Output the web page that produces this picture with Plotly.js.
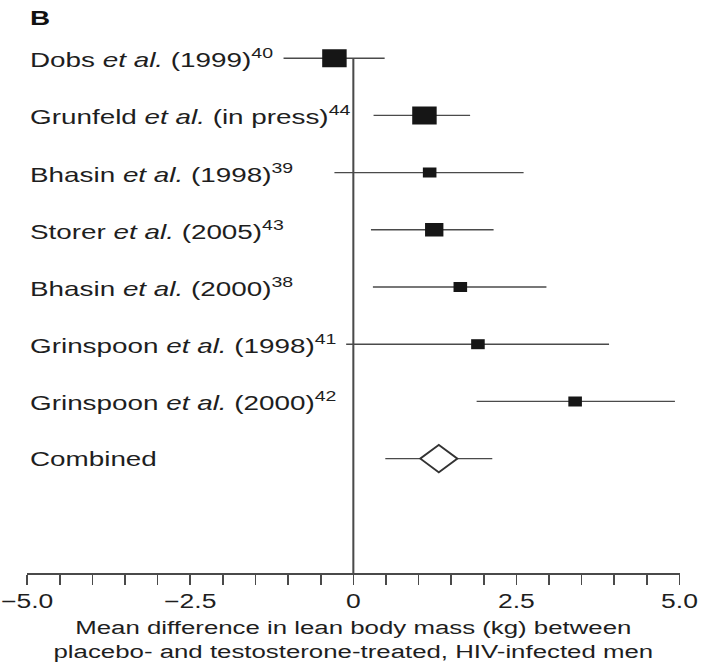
<!DOCTYPE html>
<html>
<head>
<meta charset="utf-8">
<script src="https://cdn.plot.ly/plotly-3.0.1.min.js"></script>
<style>
  html, body { margin: 0; padding: 0; overflow: hidden; background: #fff; }
  #wrap { width: 708px; height: 671px; overflow: hidden; }
  /* the figure is laid out narrow and widened horizontally */
  #chart { width: 521px; height: 671px; transform: scale(1.359, 1); transform-origin: 0 0; }
</style>
</head>
<body>
<div id="wrap"><div id="chart"></div></div>
<script>
// Studies, top to bottom, with mean difference and 95% CI (kg)
const studies = [
  'Dobs <i>et al.</i> (1999)<sup>40</sup>',
  'Grunfeld <i>et al.</i> (in press)<sup>44</sup>',
  'Bhasin <i>et al.</i> (1998)<sup>39</sup>',
  'Storer <i>et al.</i> (2005)<sup>43</sup>',
  'Bhasin <i>et al.</i> (2000)<sup>38</sup>',
  'Grinspoon <i>et al.</i> (1998)<sup>41</sup>',
  'Grinspoon <i>et al.</i> (2000)<sup>42</sup>'
];
const meanDiff = [-0.29, 1.09, 1.17, 1.24, 1.64, 1.91, 3.40];
const ciLower  = [-1.07, 0.31, -0.29, 0.27, 0.30, -0.11, 1.89];
const ciUpper  = [0.48, 1.79, 2.61, 2.15, 2.96, 3.92, 4.93];

const combinedLabel = 'Combined';
const combinedMean = 1.31;
const combinedLower = 0.49;
const combinedUpper = 2.13;

const majorTickValues = [-5, -2.5, 0, 2.5, 5];
const majorTickText = ['\u22125.0', '\u22122.5', '0', '2.5', '5.0'];

// box size per study (reflects study weight)
const boxSizes = [18, 18, 10, 13.5, 10, 10, 10];

const FONT = 'Liberation Sans, Arial, Helvetica, sans-serif';
const TEXT = '#1e1e1e';
const LINE = '#4a4a4a';

const rows = studies.map((_, i) => i);
const combinedRow = studies.length;

const studyTrace = {
  type: 'scatter', mode: 'markers',
  x: meanDiff, y: rows,
  marker: { symbol: 'square', size: boxSizes, opacity: 1, color: '#161616', line: { width: 0 } },
  error_x: {
    type: 'data', symmetric: false,
    array: meanDiff.map((m, i) => ciUpper[i] - m),
    arrayminus: meanDiff.map((m, i) => m - ciLower[i]),
    color: LINE, thickness: 1.4, width: 0
  },
  hoverinfo: 'skip', showlegend: false
};

const combinedTrace = {
  type: 'scatter', mode: 'markers',
  x: [combinedMean], y: [combinedRow],
  marker: { symbol: 'diamond', size: 21, opacity: 1, color: '#ffffff', line: { color: '#333333', width: 1.6 } },
  error_x: {
    type: 'data', symmetric: false,
    array: [combinedUpper - combinedMean],
    arrayminus: [combinedMean - combinedLower],
    color: LINE, thickness: 1.4, width: 0
  },
  hoverinfo: 'skip', showlegend: false
};

const labelAnnotations = studies.concat([combinedLabel]).map((txt, i) => ({
  xref: 'paper', yref: 'y', x: 0, y: i,
  xanchor: 'left', yanchor: 'middle',
  text: txt, showarrow: false,
  font: { family: FONT, size: 20.5, color: TEXT }
}));

labelAnnotations.push({
  xref: 'paper', yref: 'paper', x: 0, y: 0.971,
  xanchor: 'left', yanchor: 'middle',
  text: '<b>B</b>', showarrow: false,
  font: { family: FONT, size: 20.5, color: '#111' }
});

const layout = {
  width: 521, height: 671,
  margin: { l: 20.4, r: 20.6, t: 1, b: 98.3 },
  paper_bgcolor: '#ffffff', plot_bgcolor: '#ffffff',
  xaxis: {
    range: [-5, 5],
    tickmode: 'array',
    tickvals: majorTickValues,
    ticktext: majorTickText,
    ticks: 'outside', ticklen: 10, tickwidth: 1.2, tickcolor: LINE,
    minor: { dtick: 0.5, tick0: 0, ticks: 'outside', ticklen: 10, tickwidth: 1.2, tickcolor: LINE, showgrid: false },
    showline: true, linecolor: LINE, linewidth: 1.8,
    showgrid: false, zeroline: false,
    tickfont: { family: FONT, size: 19.5, color: TEXT },
    title: {
      text: 'Mean difference in lean body mass (kg) between<br>placebo- and testosterone-treated, HIV-infected men',
      font: { family: FONT, size: 19, color: TEXT },
      standoff: 9
    },
    automargin: false, fixedrange: true
  },
  yaxis: {
    range: [9, -1],
    showticklabels: false, ticks: '', showgrid: false, zeroline: false, showline: false,
    fixedrange: true
  },
  shapes: [{
    type: 'line', xref: 'x', yref: 'y',
    x0: 0, x1: 0, y0: 0, y1: 9,
    line: { color: LINE, width: 1.5 },
    layer: 'below'
  }],
  annotations: labelAnnotations
};

Plotly.newPlot('chart', [studyTrace, combinedTrace], layout, { displayModeBar: false, staticPlot: true });
</script>
</body>
</html>
